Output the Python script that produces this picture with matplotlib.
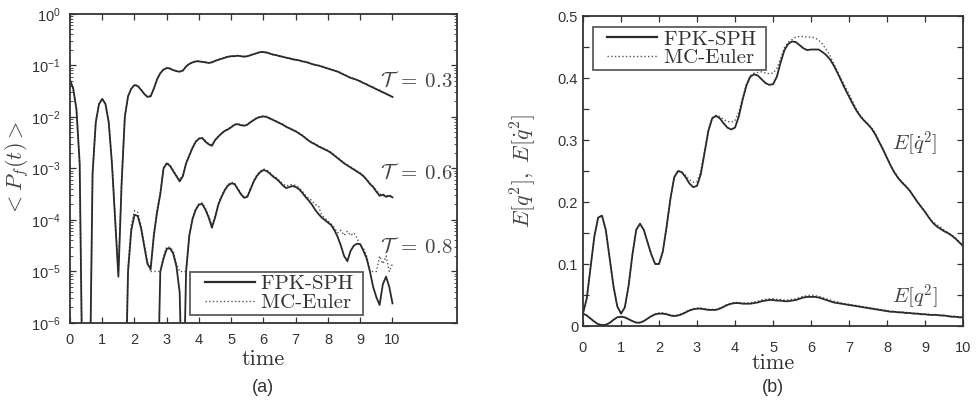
import numpy as np
import matplotlib
matplotlib.use("Agg")
import matplotlib.pyplot as plt
from matplotlib.legend_handler import HandlerLine2D
from matplotlib.ticker import FixedLocator, LogLocator, NullFormatter

plt.rcParams["font.family"] = ["Liberation Sans", "DejaVu Sans"]
plt.rcParams["mathtext.fontset"] = "cm"
plt.rcParams["axes.unicode_minus"] = True

# ── data: time grid (0 .. 10, step 0.1) ──────────────────────────────────────
time = np.linspace(0, 10, 101)
nan = np.nan

# panel (a): log10 of <P_f(t)>, values far below the axis = zero probability
log_p_T03_fpk = [
    -1.28, -1.45, -1.85, -2.90, -8.00, -8.00, -8.00, -3.10, -2.10, -1.75,
    -1.65, -1.75, -2.10, -2.90, -4.00, -5.10, -3.30, -2.00, -1.60, -1.45,
    -1.38, -1.40, -1.47, -1.55, -1.61, -1.60, -1.45, -1.27, -1.15, -1.08,
    -1.05, -1.06, -1.09, -1.11, -1.12, -1.10, -1.02, -0.97, -0.94, -0.92,
    -0.92, -0.93, -0.94, -0.95, -0.94, -0.91, -0.89, -0.87, -0.85, -0.83,
    -0.82, -0.82, -0.81, -0.82, -0.83, -0.82, -0.80, -0.78, -0.76, -0.74,
    -0.74, -0.75, -0.77, -0.79, -0.80, -0.82, -0.83, -0.85, -0.86, -0.88,
    -0.89, -0.90, -0.92, -0.93, -0.95, -0.97, -0.99, -1.00, -1.02, -1.04,
    -1.06, -1.08, -1.10, -1.12, -1.15, -1.18, -1.21, -1.24, -1.26, -1.28,
    -1.31, -1.34, -1.37, -1.40, -1.43, -1.46, -1.49, -1.52, -1.55, -1.58,
    -1.61]
log_p_T03_mc = [
    -1.28, -1.45, -1.86, -2.95, -8.00, -8.00, -8.00, -3.05, -2.08, -1.74,
    -1.64, -1.74, -2.08, -2.85, -3.95, -5.00, -3.25, -1.98, -1.60, -1.44,
    -1.38, -1.39, -1.46, -1.55, -1.60, -1.59, -1.44, -1.26, -1.15, -1.07,
    -1.05, -1.05, -1.09, -1.10, -1.12, -1.09, -1.02, -0.96, -0.94, -0.92,
    -0.91, -0.93, -0.93, -0.95, -0.93, -0.91, -0.88, -0.87, -0.84, -0.83,
    -0.82, -0.81, -0.81, -0.82, -0.82, -0.82, -0.79, -0.78, -0.75, -0.74,
    -0.73, -0.75, -0.76, -0.79, -0.80, -0.81, -0.83, -0.84, -0.86, -0.87,
    -0.89, -0.90, -0.91, -0.93, -0.94, -0.97, -0.98, -1.00, -1.01, -1.04,
    -1.05, -1.08, -1.09, -1.12, -1.14, -1.18, -1.20, -1.24, -1.25, -1.28,
    -1.30, -1.34, -1.36, -1.40, -1.42, -1.46, -1.48, -1.52, -1.54, -1.58,
    -1.62]
log_p_T06_fpk = [
    -8.00, -8.00, -8.00, -8.00, -8.00, -8.00, -8.00, -8.00, -8.00, -8.00,
    -8.00, -8.00, -8.00, -8.00, -8.00, -8.00, -8.00, -8.00, -5.00, -4.20,
    -3.90, -3.92, -4.15, -4.50, -4.85, -4.95, -4.30, -3.85, -3.50, -3.00,
    -2.90, -2.95, -3.05, -3.15, -3.25, -3.15, -2.90, -2.75, -2.60, -2.48,
    -2.42, -2.41, -2.48, -2.53, -2.56, -2.45, -2.38, -2.32, -2.27, -2.24,
    -2.20, -2.15, -2.14, -2.16, -2.17, -2.15, -2.10, -2.06, -2.02, -2.00,
    -1.99, -2.00, -2.03, -2.06, -2.09, -2.12, -2.15, -2.19, -2.22, -2.25,
    -2.28, -2.32, -2.36, -2.41, -2.46, -2.50, -2.53, -2.57, -2.60, -2.63,
    -2.66, -2.70, -2.75, -2.80, -2.85, -2.90, -2.94, -2.98, -3.02, -3.06,
    -3.10, -3.15, -3.22, -3.30, -3.36, -3.45, -3.53, -3.51, -3.55, -3.53,
    -3.56]
log_p_T06_mc = [
    nan, nan, nan, nan, nan, nan, nan, nan, nan, nan,
    nan, nan, nan, nan, nan, nan, nan, -8.00, -4.90, -4.10,
    -3.82, -3.85, -4.10, -4.45, -4.80, -5.00, -4.25, -3.80, -3.45, -2.98,
    -2.89, -2.93, -3.03, -3.13, -3.22, -3.12, -2.88, -2.73, -2.58, -2.47,
    -2.41, -2.40, -2.46, -2.52, -2.54, -2.44, -2.37, -2.31, -2.26, -2.23,
    -2.19, -2.15, -2.13, -2.15, -2.16, -2.14, -2.09, -2.05, -2.01, -1.99,
    -1.98, -1.99, -2.02, -2.05, -2.08, -2.11, -2.14, -2.18, -2.21, -2.24,
    -2.27, -2.31, -2.35, -2.40, -2.45, -2.49, -2.52, -2.56, -2.59, -2.62,
    -2.65, -2.69, -2.74, -2.79, -2.84, -2.89, -2.93, -2.97, -3.01, -3.05,
    -3.09, -3.14, -3.21, -3.29, -3.35, -3.42, -3.50, -3.49, -3.53, -3.52,
    -3.54]
log_p_T08_fpk = [
    -8.00, -8.00, -8.00, -8.00, -8.00, -8.00, -8.00, -8.00, -8.00, -8.00,
    -8.00, -8.00, -8.00, -8.00, -8.00, -8.00, -8.00, -8.00, -8.00, -8.00,
    -8.00, -8.00, -8.00, -8.00, -8.00, -8.00, -8.00, -8.00, -5.00, -4.75,
    -4.56, -4.55, -4.65, -4.90, -5.40, -8.00, -5.00, -4.30, -3.98, -3.80,
    -3.70, -3.69, -3.80, -3.95, -4.15, -3.95, -3.70, -3.55, -3.42, -3.33,
    -3.29, -3.30, -3.40, -3.50, -3.57, -3.55, -3.40, -3.25, -3.14, -3.07,
    -3.03, -3.05, -3.10, -3.16, -3.20, -3.26, -3.33, -3.38, -3.36, -3.34,
    -3.36, -3.40, -3.47, -3.55, -3.62, -3.70, -3.80, -3.88, -3.95, -4.00,
    -4.05, -4.10, -4.20, -4.33, -4.50, -4.70, -4.80, -4.60, -4.50, -4.46,
    -4.47, -4.60, -4.75, -5.00, -5.30, -5.50, -5.65, -5.25, -5.10, -5.30,
    -5.62]
log_p_T08_mc = [
    nan, nan, nan, nan, nan, nan, nan, nan, nan, nan,
    nan, nan, nan, nan, nan, nan, nan, nan, nan, nan,
    nan, nan, nan, nan, nan, -5.00, -5.00, -5.00, -5.00, -4.70,
    -4.52, -4.53, -4.60, -4.85, -5.00, -5.00, -5.00, -4.30, -3.95, -3.78,
    -3.68, -3.67, -3.78, -3.92, -4.10, -3.92, -3.68, -3.53, -3.40, -3.31,
    -3.27, -3.28, -3.38, -3.48, -3.55, -3.53, -3.38, -3.23, -3.12, -3.05,
    -3.01, -3.03, -3.08, -3.14, -3.18, -3.24, -3.30, -3.34, -3.32, -3.31,
    -3.33, -3.37, -3.44, -3.52, -3.58, -3.62, -3.70, -3.72, -3.90, -3.96,
    -4.02, -4.08, -4.15, -4.25, -4.20, -4.30, -4.22, -4.30, -4.25, -4.35,
    -4.50, -4.55, -4.70, -5.00, -5.00, -5.00, -4.70, -4.85, -4.70, -5.00,
    -4.85]

# panel (b): second moments
eqdot2_fpk = [
    0.020, 0.045, 0.095, 0.145, 0.175, 0.178, 0.155, 0.110, 0.065, 0.032,
    0.020, 0.030, 0.065, 0.115, 0.155, 0.165, 0.155, 0.135, 0.115, 0.100,
    0.100, 0.120, 0.160, 0.205, 0.240, 0.250, 0.248, 0.240, 0.230, 0.224,
    0.226, 0.245, 0.280, 0.315, 0.335, 0.339, 0.335, 0.327, 0.320, 0.317,
    0.320, 0.338, 0.365, 0.388, 0.402, 0.406, 0.404, 0.398, 0.392, 0.389,
    0.390, 0.402, 0.425, 0.445, 0.455, 0.459, 0.458, 0.453, 0.448, 0.445,
    0.446, 0.446, 0.446, 0.442, 0.437, 0.430, 0.420, 0.408, 0.395, 0.382,
    0.370, 0.358, 0.347, 0.338, 0.331, 0.325, 0.318, 0.308, 0.296, 0.284,
    0.271, 0.258, 0.247, 0.238, 0.231, 0.225, 0.218, 0.209, 0.200, 0.192,
    0.184, 0.175, 0.167, 0.161, 0.157, 0.153, 0.150, 0.146, 0.141, 0.135,
    0.129]
eqdot2_mc = [
    0.020, 0.045, 0.095, 0.145, 0.175, 0.178, 0.155, 0.110, 0.065, 0.032,
    0.020, 0.030, 0.065, 0.115, 0.155, 0.165, 0.155, 0.135, 0.115, 0.100,
    0.100, 0.120, 0.160, 0.205, 0.240, 0.250, 0.249, 0.243, 0.236, 0.232,
    0.233, 0.250, 0.282, 0.316, 0.336, 0.340, 0.338, 0.333, 0.330, 0.329,
    0.331, 0.345, 0.368, 0.390, 0.404, 0.408, 0.409, 0.410, 0.408, 0.407,
    0.408, 0.415, 0.432, 0.449, 0.458, 0.462, 0.466, 0.467, 0.467, 0.466,
    0.466, 0.465, 0.461, 0.455, 0.446, 0.436, 0.423, 0.410, 0.398, 0.386,
    0.374, 0.362, 0.349, 0.339, 0.332, 0.326, 0.319, 0.310, 0.297, 0.285,
    0.272, 0.259, 0.248, 0.239, 0.232, 0.226, 0.219, 0.210, 0.201, 0.193,
    0.185, 0.176, 0.168, 0.164, 0.160, 0.155, 0.151, 0.147, 0.142, 0.136,
    0.130]
eq2_fpk = [
    0.020, 0.017, 0.012, 0.007, 0.003, 0.0015, 0.002, 0.005, 0.010, 0.014,
    0.015, 0.014, 0.011, 0.008, 0.0055, 0.0055, 0.008, 0.012, 0.016, 0.019,
    0.020, 0.020, 0.019, 0.017, 0.016, 0.017, 0.019, 0.022, 0.025, 0.027,
    0.028, 0.028, 0.027, 0.026, 0.026, 0.026, 0.028, 0.031, 0.034, 0.036,
    0.037, 0.037, 0.036, 0.036, 0.036, 0.037, 0.038, 0.040, 0.041, 0.042,
    0.042, 0.041, 0.041, 0.040, 0.040, 0.041, 0.042, 0.044, 0.046, 0.047,
    0.047, 0.047, 0.046, 0.044, 0.042, 0.040, 0.038, 0.037, 0.036, 0.035,
    0.034, 0.033, 0.032, 0.031, 0.030, 0.029, 0.028, 0.027, 0.026, 0.025,
    0.024, 0.023, 0.023, 0.022, 0.022, 0.021, 0.021, 0.020, 0.020, 0.019,
    0.019, 0.018, 0.018, 0.018, 0.017, 0.017, 0.016, 0.015, 0.015, 0.014,
    0.014]
eq2_mc = [
    0.020, 0.017, 0.012, 0.007, 0.003, 0.0015, 0.002, 0.005, 0.010, 0.014,
    0.015, 0.014, 0.011, 0.008, 0.0055, 0.0055, 0.008, 0.012, 0.016, 0.019,
    0.021, 0.021, 0.020, 0.018, 0.017, 0.018, 0.020, 0.023, 0.026, 0.028,
    0.029, 0.029, 0.028, 0.027, 0.027, 0.027, 0.029, 0.032, 0.035, 0.037,
    0.038, 0.038, 0.037, 0.037, 0.037, 0.039, 0.040, 0.042, 0.043, 0.044,
    0.044, 0.043, 0.043, 0.042, 0.042, 0.043, 0.044, 0.046, 0.048, 0.049,
    0.050, 0.049, 0.048, 0.046, 0.044, 0.042, 0.040, 0.039, 0.037, 0.036,
    0.035, 0.034, 0.033, 0.032, 0.031, 0.030, 0.029, 0.028, 0.027, 0.026,
    0.025, 0.024, 0.023, 0.023, 0.022, 0.022, 0.021, 0.021, 0.020, 0.020,
    0.019, 0.019, 0.018, 0.018, 0.017, 0.017, 0.016, 0.016, 0.015, 0.015,
    0.014]

threshold_labels = [r"$\mathcal{T}\;=\;0.3$", r"$\mathcal{T}\;=\;0.6$", r"$\mathcal{T}\;=\;0.8$"]
threshold_label_y = [10 ** -1.30, 10 ** -3.09, 10 ** -4.52]

b_yticks = [0, 0.1, 0.2, 0.3, 0.4, 0.5]
b_yticklabels = ["0", "0.1", "0.2", "0.3", "0.4", "0.5"]

# ── styling ──────────────────────────────────────────────────────────────────
INK = "#333333"
SOLID = "#2a2a2a"
DOTS = "#555555"
SERIF = "cmr10"


def style_axes(ax, pad):
    for sp in ax.spines.values():
        sp.set_color(INK)
        sp.set_linewidth(1.3)
    ax.tick_params(which="both", direction="in", top=True, right=True,
                   colors=INK, labelcolor=INK, labelsize=10.5)
    ax.tick_params(which="major", length=4, width=0.9)
    ax.tick_params(which="minor", length=2, width=0.6)
    ax.tick_params(axis="x", which="major", pad=pad)


fig = plt.figure(figsize=(9.79, 4.05), dpi=100)

# ── panel (a) ────────────────────────────────────────────────────────────────
ax_a = fig.add_axes([0.0715, 0.2025, 0.3953, 0.763])
for fpk, mc in [(log_p_T03_fpk, log_p_T03_mc),
                (log_p_T06_fpk, log_p_T06_mc),
                (log_p_T08_fpk, log_p_T08_mc)]:
    ax_a.plot(time, 10.0 ** np.array(mc), color=DOTS, lw=1.0, ls=":")
    ax_a.plot(time, 10.0 ** np.array(fpk), color=SOLID, lw=1.3)
ax_a.set_yscale("log")
ax_a.set_xlim(0, 12)
ax_a.set_ylim(1e-6, 1e0)
ax_a.xaxis.set_major_locator(FixedLocator(range(0, 11)))
decades = [10.0 ** k for k in range(-6, 1)]
ax_a.yaxis.set_major_locator(FixedLocator(decades))
ax_a.set_yticklabels([r"$\mathregular{10^{%d}}$" % k for k in range(-6, 1)])
ax_a.yaxis.set_minor_locator(LogLocator(base=10, subs=np.arange(2, 10), numticks=20))
ax_a.yaxis.set_minor_formatter(NullFormatter())
style_axes(ax_a, pad=7)
ax_a.tick_params(axis="y", which="major", pad=7)
for lab, yv in zip(threshold_labels, threshold_label_y):
    ax_a.text(9.6, yv, lab, fontsize=15, color="#444444", va="center", ha="left")
ax_a.set_xlabel("time", fontfamily=SERIF, fontsize=16, color=INK, labelpad=2)
ax_a.set_ylabel(r"$<P_f(t)>$", fontsize=16, color="#444444", labelpad=0)

# ── panel (b) ────────────────────────────────────────────────────────────────
ax_b = fig.add_axes([0.5955, 0.195, 0.3882, 0.7654])
ax_b.plot(time, eqdot2_mc, color=DOTS, lw=1.0, ls=":")
ax_b.plot(time, eqdot2_fpk, color=SOLID, lw=1.3)
ax_b.plot(time, eq2_mc, color=DOTS, lw=1.0, ls=":")
ax_b.plot(time, eq2_fpk, color=SOLID, lw=1.3)
ax_b.set_xlim(0, 10)
ax_b.set_ylim(0, 0.5)
ax_b.xaxis.set_major_locator(FixedLocator(range(0, 11)))
ax_b.yaxis.set_major_locator(FixedLocator(b_yticks))
ax_b.set_yticklabels(b_yticklabels)
ax_b.yaxis.set_minor_locator(FixedLocator([0.05, 0.15, 0.25, 0.35, 0.45]))
style_axes(ax_b, pad=11)
ax_b.tick_params(which="minor", length=4, width=0.9)
ax_b.text(8.13, 0.295, r"$E[\dot{q}^2]$", fontsize=15, color="#444444", va="center")
ax_b.text(8.13, 0.047, r"$E[q^2]$", fontsize=15, color="#444444", va="center")
ax_b.set_xlabel("time", fontfamily=SERIF, fontsize=16, color=INK, labelpad=-1)
ax_b.set_ylabel(r"$E[q^2],\ E[\dot{q}^2]$", fontsize=16, color="#444444", labelpad=14)

# legends
for ax, loc, anchor in [(ax_a, "lower left", (0.31, 0.026)),
                        (ax_b, "upper left", (0.026, 0.965))]:
    ax.plot([], [], color=SOLID, lw=1.6, label="FPK-SPH ")
    ax.plot([], [], color=DOTS, lw=1.0, ls=":", label="MC-Euler ")
    leg = ax.legend(loc=loc, bbox_to_anchor=anchor, frameon=True, fancybox=False,
                    prop={"family": SERIF, "size": 15}, handlelength=2.95,
                    handler_map={matplotlib.lines.Line2D: HandlerLine2D(xpad=0.55)},
                    handletextpad=0.3, borderpad=0.15, labelspacing=0.0,
                    borderaxespad=0.0)
    leg.get_frame().set_edgecolor(INK)
    leg.get_frame().set_linewidth(1.3)
    for txt in leg.get_texts():
        txt.set_color(INK)

fig.text(263 / 979, 1 - 387 / 405, "(a)", fontsize=13, color=INK, ha="center", va="center")
fig.text(773 / 979, 1 - 388 / 405, "(b)", fontsize=13, color=INK, ha="center", va="center")

fig.savefig("out.png", dpi=100)
